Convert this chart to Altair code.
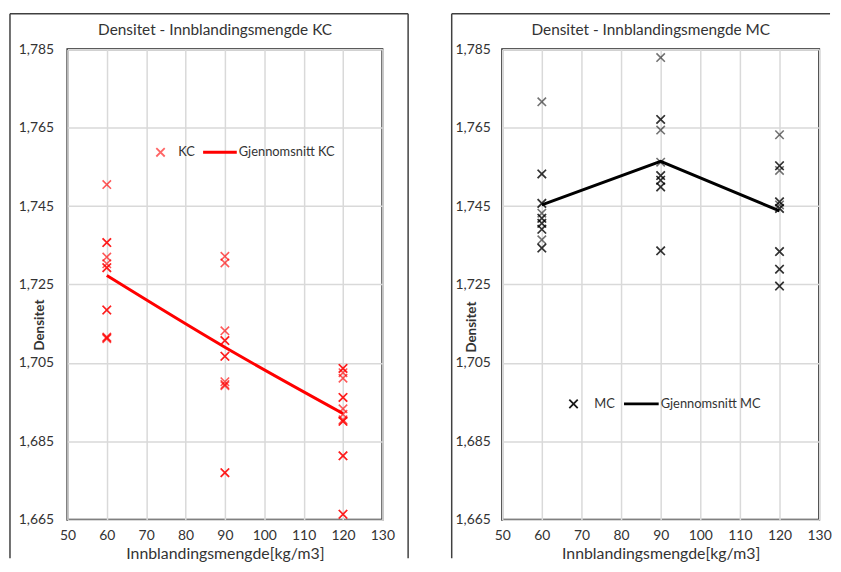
import altair as alt
import pandas as pd

# ---------------- data ----------------
x_ticks = [50, 60, 70, 80, 90, 100, 110, 120, 130]
y_ticks = [1.665, 1.685, 1.705, 1.725, 1.745, 1.765, 1.785]

kc_60 = [1.7505, 1.7357, 1.7357, 1.7320, 1.7303, 1.7293, 1.7293, 1.7185, 1.7185, 1.7116, 1.7112, 1.7114]
kc_90 = [1.7322, 1.7305, 1.7132, 1.7107, 1.7107, 1.7067, 1.7067, 1.7002, 1.6995, 1.6992, 1.6770, 1.6770]
kc_120 = [1.7036, 1.7036, 1.7025, 1.7011, 1.6962, 1.6962, 1.6933, 1.6919, 1.6905, 1.6901, 1.6901,
          1.6813, 1.6813, 1.6664, 1.6664]
kc_mean = [1.7273, 1.7090, 1.6921]

mc_60 = [1.7716, 1.7532, 1.7532, 1.7457, 1.7457, 1.7432, 1.7419, 1.7419, 1.7406, 1.7406, 1.7391,
         1.7391, 1.7364, 1.7343, 1.7343]
mc_90 = [1.7829, 1.7671, 1.7671, 1.7644, 1.7562, 1.7528, 1.7528, 1.7516, 1.7516, 1.7499, 1.7499,
         1.7336, 1.7336]
mc_120 = [1.7632, 1.7553, 1.7553, 1.7541, 1.7461, 1.7461, 1.7453, 1.7444, 1.7444, 1.7334, 1.7334,
          1.7289, 1.7289, 1.7246, 1.7246]
mc_mean = [1.7453, 1.7564, 1.7438]

doses = [60, 90, 120]


def points_df(groups):
    rows = []
    for d, vals in zip(doses, groups):
        for v in vals:
            rows.append({"dose": d, "dens": v})
    return pd.DataFrame(rows)


def mean_df(vals):
    return pd.DataFrame({"dose": doses, "dens": vals})


X_PATH = "M-1,-1L1,1M-1,1L1,-1"
FONT = "Lato"
TXT = "#333333"
one = pd.DataFrame({"a": [0]})


def panel(pts, means, color, interp, title, names, w, h, frame, right_edge, leg, ytitle,
          lab_pad, pt_opacity, leg_opacity):
    xs = alt.Scale(domain=[50, 130], nice=False, zero=False)
    ys = alt.Scale(domain=[1.665, 1.785], nice=False, zero=False)
    xaxis = alt.Axis(values=x_ticks, title="Innblandingsmengde[kg/m3]", labelPadding=9,
                     labelOverlap=False, labelFlush=False, titleY=39,
                     titleBaseline="alphabetic", titleFontSize=16, titleFontWeight="normal")
    yaxis = alt.Axis(values=y_ticks, title="Densitet",
                     labelExpr="replace(format(datum.value, '.3f'), '.', ',')",
                     labelOverlap=False,
                     labelPadding=lab_pad, titleX=ytitle[0], titleY=ytitle[1], titleAngle=-90,
                     titleAlign="center", titleBaseline="middle", titleFontSize=13.5,
                     titleFontWeight="bold")

    base_pts = alt.Chart(points_df(pts)).mark_point(
        shape=X_PATH, filled=False, size=72, strokeWidth=1.6, color=color, opacity=pt_opacity
    ).encode(
        x=alt.X("dose:Q", scale=xs, axis=xaxis),
        y=alt.Y("dens:Q", scale=ys, axis=yaxis),
    )
    line = alt.Chart(mean_df(means)).mark_line(
        color=color, strokeWidth=3, interpolate=interp
    ).encode(x=alt.X("dose:Q", scale=xs, axis=xaxis), y=alt.Y("dens:Q", scale=ys, axis=yaxis))

    fl, fr, ft, fb = frame
    layers = [
        alt.Chart(one).mark_rule(color="#404040", strokeWidth=1.5).encode(
            x=alt.value(fl), x2=alt.value(fr), y=alt.value(ft)),
        alt.Chart(one).mark_rule(color="#404040", strokeWidth=1.5).encode(
            x=alt.value(fl), y=alt.value(ft), y2=alt.value(fb)),
    ]
    if right_edge:
        layers.append(alt.Chart(one).mark_rule(color="#404040", strokeWidth=1.5).encode(
            x=alt.value(fr), y=alt.value(ft), y2=alt.value(fb)))

    ttl = alt.Chart(one).mark_text(text=title, font=FONT, fontSize=15.5, color=TXT,
                                   align="center", baseline="alphabetic").encode(
        x=alt.value(w / 2 - 10), y=alt.value(-14))

    lx, ly, tx1, lx1, lx2, tx2 = leg
    leg_pt = alt.Chart(one).mark_point(shape=X_PATH, filled=False, size=72, strokeWidth=1.8,
                                       color=color, opacity=leg_opacity).encode(
        x=alt.value(lx), y=alt.value(ly))
    leg_t1 = alt.Chart(one).mark_text(text=names[0], font=FONT, fontSize=13, color=TXT,
                                      align="left", baseline="middle").encode(
        x=alt.value(tx1), y=alt.value(ly))
    leg_ln = alt.Chart(one).mark_rule(color=color, strokeWidth=3).encode(
        x=alt.value(lx1), x2=alt.value(lx2), y=alt.value(ly))
    leg_t2 = alt.Chart(one).mark_text(text=names[1], font=FONT, fontSize=13, color=TXT,
                                      align="left", baseline="middle").encode(
        x=alt.value(tx2), y=alt.value(ly))

    return alt.layer(base_pts, line, *layers, ttl, leg_pt, leg_t1, leg_ln, leg_t2).properties(
        width=w, height=h)


left = panel([kc_60, kc_90, kc_120], kc_mean, "#ff0000", "monotone",
             "Densitet - Innblandingsmengde KC", ["KC", "Gjennomsnitt KC"],
             318, 475, (-58, 344, -36, 514), True, (94, 104, 112, 137, 171, 173), (-28, 278),
             14, 0.65, 0.6)
right = panel([mc_60, mc_90, mc_120], mc_mean, "#000000", "linear",
              "Densitet - Innblandingsmengde MC", ["MC", "Gjennomsnitt MC"],
              320, 475, (-51, 331, -36, 514), False, (72, 358, 93, 123, 158, 160), (-31, 280),
              12, 0.55, 0.9)

chart = alt.hconcat(left, right, spacing=40).properties(
    padding={"left": 0, "top": 1, "right": 0, "bottom": 0}
).configure_view(
    stroke="#262626", strokeWidth=2
).configure_axis(
    grid=True, gridColor="#d9d9d9", gridWidth=1.5, domain=False, ticks=False,
    labelOverlap=False,
    labelFont=FONT, labelFontSize=14, labelColor=TXT, titleFont=FONT, titleColor=TXT
)

chart.save("out.html", embed_options={"renderer": "svg", "actions": False})
